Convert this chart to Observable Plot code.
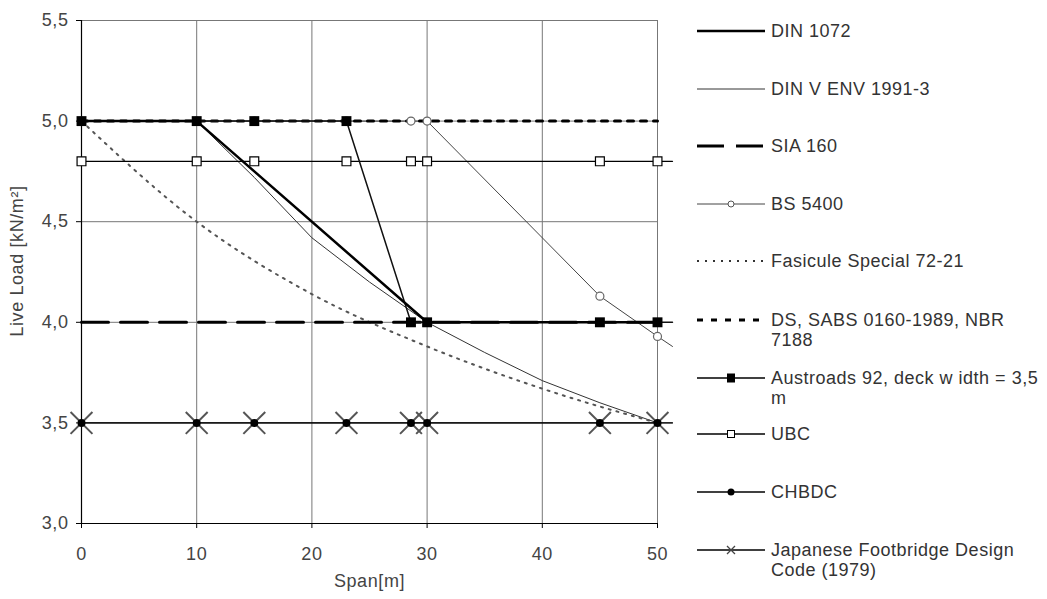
<!DOCTYPE html>
<html>
<head>
<meta charset="utf-8">
<script src="https://cdn.jsdelivr.net/npm/d3@7"></script>
<script src="https://cdn.jsdelivr.net/npm/@observablehq/plot@0.6"></script>
<style>
  html, body { margin: 0; padding: 0; background: #fff; }
  #wrap { position: relative; width: 1047px; height: 599px; font-family: "Liberation Sans", Arial, sans-serif; }
  #chart { position: absolute; left: 0; top: 0; }
  #legend { position: absolute; left: 680px; top: 0; }
</style>
</head>
<body>
<div id="wrap"><div id="chart"></div><svg id="legend" width="367" height="599"></svg></div>
<script>
// ---- data ----
const xTicks = [0, 10, 20, 30, 40, 50];
const yTicks = [3.0, 3.5, 4.0, 4.5, 5.0, 5.5];

const din1072X = [0, 10, 30, 50];
const din1072Y = [5.0, 5.0, 4.0, 4.0];

const dinEnvX = [0, 10, 15, 20, 25, 30, 35, 40, 45, 50];
const dinEnvY = [5.0, 5.0, 4.72, 4.42, 4.2, 4.0, 3.85, 3.71, 3.6, 3.5];

const sia160X = [0, 50];
const sia160Y = [4.0, 4.0];

const bs5400X = [0, 10, 15, 23, 28.6, 30, 45, 50, 51.3];
const bs5400Y = [5.0, 5.0, 5.0, 5.0, 5.0, 5.0, 4.13, 3.93, 3.88];

const fasiculeX = [0, 10, 20, 30, 40, 50];
const fasiculeY = [5.0, 4.5, 4.14, 3.88, 3.67, 3.5];

const dsX = [0, 50];
const dsY = [5.0, 5.0];

const austroadsX = [0, 10, 15, 23, 28.6, 30, 45, 50, 51.3];
const austroadsY = [5.0, 5.0, 5.0, 5.0, 4.0, 4.0, 4.0, 4.0, 4.0];

const ubcX = [0, 10, 15, 23, 28.6, 30, 45, 50, 51.3];
const ubcY = [4.8, 4.8, 4.8, 4.8, 4.8, 4.8, 4.8, 4.8, 4.8];

const chbdcX = [0, 10, 15, 23, 28.6, 30, 45, 50, 51.3];
const chbdcY = [3.5, 3.5, 3.5, 3.5, 3.5, 3.5, 3.5, 3.5, 3.5];

const japanX = [0, 10, 15, 23, 28.6, 30, 45, 50, 51.3];
const japanY = [3.5, 3.5, 3.5, 3.5, 3.5, 3.5, 3.5, 3.5, 3.5];

const legendLabels = [
  ["DIN 1072"],
  ["DIN V ENV 1991-3"],
  ["SIA 160"],
  ["BS 5400"],
  ["Fasicule Special 72-21"],
  ["DS, SABS 0160-1989, NBR", "7188"],
  ["Austroads 92, deck w idth = 3,5", "m"],
  ["UBC"],
  ["CHBDC"],
  ["Japanese Footbridge Design", "Code (1979)"]
];

// ---- helpers ----
const pts = (xs, ys) => xs.map((x, i) => ({x, y: ys[i]}));
const markers = (xs, ys) => pts(xs, ys).filter(d => d.x <= 50);
const fmt = d => d.toFixed(1).replace(".", ",");

const chart = Plot.plot({
  width: 680,
  height: 599,
  marginLeft: 81,
  marginRight: 23,
  marginTop: 20,
  marginBottom: 76,
  style: {fontFamily: "'Liberation Sans', Arial, sans-serif", fontSize: "18px", color: "#444", background: "#fff", overflow: "visible", letterSpacing: "0.6px"},
  x: {domain: [0, 50], ticks: xTicks},
  y: {domain: [3, 5.5], ticks: yTicks},
  marks: [
    Plot.gridX(xTicks.filter(d => d > 0), {stroke: "#777", strokeOpacity: 1}),
    Plot.gridY(yTicks.filter(d => d > 3), {stroke: "#777", strokeOpacity: 1}),
    Plot.axisX(xTicks, {tickSize: 5, tickPadding: 19, tickFormat: d => String(d), fontSize: 18, fill: "#444", stroke: "#000", label: null}),
    Plot.axisY(yTicks, {tickSize: 5, tickPadding: 8, tickFormat: fmt, fontSize: 18, fill: "#444", stroke: "#000", label: null}),
    Plot.ruleX([0], {stroke: "#000", strokeWidth: 1.2}),
    Plot.ruleY([3], {stroke: "#000", strokeWidth: 1.2}),
    Plot.text(["Span[m]"], {frameAnchor: "bottom", dy: 63, fontSize: 18, fill: "#444"}),
    Plot.text(["Live Load [kN/m²]"], {frameAnchor: "left", textAnchor: "middle", dx: -64, dy: -11, rotate: -90, fontSize: 18, fill: "#444"}),

    // lines
    Plot.line(pts(dinEnvX, dinEnvY), {x: "x", y: "y", stroke: "#333", strokeWidth: 1}),
    Plot.line(pts(fasiculeX, fasiculeY), {x: "x", y: "y", stroke: "#555", strokeWidth: 2, strokeDasharray: "2 6", curve: "monotone-x"}),
    Plot.line(pts(bs5400X, bs5400Y), {x: "x", y: "y", stroke: "#444", strokeWidth: 1}),
    Plot.line(pts(ubcX, ubcY), {x: "x", y: "y", stroke: "#000", strokeWidth: 1.3}),
    Plot.line(pts(chbdcX, chbdcY), {x: "x", y: "y", stroke: "#000", strokeWidth: 1}),
    Plot.line(pts(japanX, japanY), {x: "x", y: "y", stroke: "#000", strokeWidth: 1}),
    Plot.line(pts(sia160X, sia160Y), {x: "x", y: "y", stroke: "#000", strokeWidth: 3, strokeDasharray: "27 12"}),
    Plot.line(pts(dsX, dsY), {x: "x", y: "y", stroke: "#000", strokeWidth: 3, strokeDasharray: "6 7"}),
    Plot.line(pts(austroadsX, austroadsY), {x: "x", y: "y", stroke: "#111", strokeWidth: 1.5}),
    Plot.line(pts(din1072X, din1072Y), {x: "x", y: "y", stroke: "#000", strokeWidth: 2.5}),

    // markers
    Plot.dot(markers(japanX, japanY), {x: "x", y: "y", symbol: "times", r: 10, stroke: "#555", strokeWidth: 2}),
    Plot.dot(markers(chbdcX, chbdcY), {x: "x", y: "y", symbol: "circle", r: 4, fill: "#000"}),
    Plot.dot(markers(bs5400X, bs5400Y), {x: "x", y: "y", symbol: "circle", r: 4, fill: "#fff", stroke: "#666", strokeWidth: 1.2}),
    Plot.dot(markers(ubcX, ubcY), {x: "x", y: "y", symbol: "square", r: 5, fill: "#fff", stroke: "#000", strokeWidth: 1.2}),
    Plot.dot(markers(austroadsX, austroadsY), {x: "x", y: "y", symbol: "square", r: 5.6, fill: "#000"})
  ]
});
document.getElementById("chart").appendChild(chart);

// ---- legend ----
const lg = d3.select("#legend").style("font-family", "'Liberation Sans', Arial, sans-serif");
const styles = [
  {w: 2.5, dash: null, c: "#000"},
  {w: 1, dash: null, c: "#333"},
  {w: 3, dash: "27 12", c: "#000"},
  {w: 1, dash: null, c: "#444", m: "ocircle"},
  {w: 2, dash: "2 6", c: "#333"},
  {w: 3, dash: "6 8", c: "#000"},
  {w: 1.3, dash: null, c: "#000", m: "fsquare"},
  {w: 1.3, dash: null, c: "#000", m: "osquare"},
  {w: 1.3, dash: null, c: "#000", m: "fcircle"},
  {w: 1.3, dash: null, c: "#000", m: "cross"}
];
const itemY = [31, 89, 146, 204, 261, 320, 378, 434, 492, 550];
legendLabels.forEach((lines, i) => {
  const y = itemY[i], s = styles[i];
  const g = lg.append("g");
  g.append("line").attr("x1", 17).attr("x2", 85).attr("y1", y).attr("y2", y)
    .attr("stroke", s.c).attr("stroke-width", s.w).attr("stroke-dasharray", s.dash);
  const cx = 51;
  if (s.m === "ocircle") g.append("circle").attr("cx", cx).attr("cy", y).attr("r", 3).attr("fill", "#fff").attr("stroke", "#555");
  if (s.m === "fcircle") g.append("circle").attr("cx", cx).attr("cy", y).attr("r", 3.5).attr("fill", "#000");
  if (s.m === "fsquare") g.append("rect").attr("x", cx - 4).attr("y", y - 4.5).attr("width", 8).attr("height", 9).attr("fill", "#000");
  if (s.m === "osquare") g.append("rect").attr("x", cx - 3.5).attr("y", y - 3.5).attr("width", 7).attr("height", 7).attr("fill", "#fff").attr("stroke", "#000");
  if (s.m === "cross") g.append("path").attr("d", `M${cx-4},${y-4}L${cx+4},${y+4}M${cx-4},${y+4}L${cx+4},${y-4}`).attr("stroke", "#444").attr("stroke-width", 1.3);
  lines.forEach((t, j) => {
    g.append("text").attr("x", 91).attr("y", y + j * 20).attr("dy", "0.35em")
      .attr("font-size", 18).attr("letter-spacing", "0.5px").attr("fill", "#333").text(t);
  });
});
</script>
</body>
</html>
